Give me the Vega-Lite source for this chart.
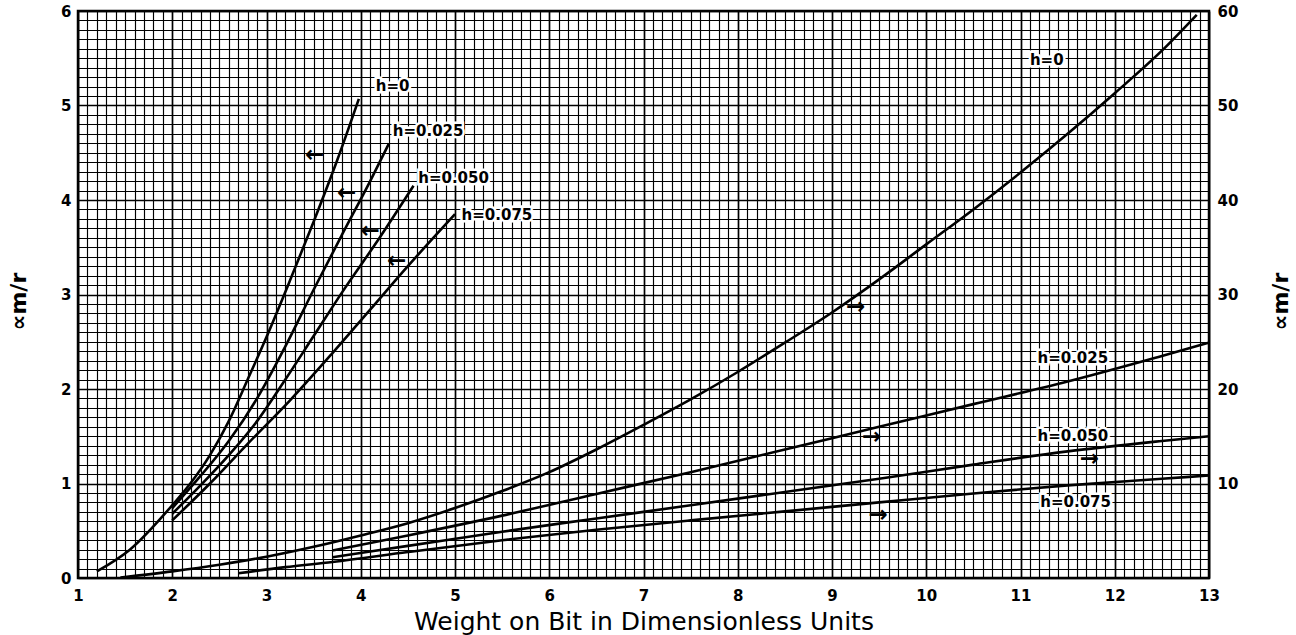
{
  "$schema": "https://vega.github.io/schema/vega-lite/v6.json",
  "width": 1131,
  "height": 567,
  "autosize": {"type": "none"},
  "padding": {"left": 78, "top": 11, "right": 87, "bottom": 57},
  "background": "white",
  "config": {
    "view": {"stroke": "black", "strokeWidth": 2.5},
    "font": "DejaVu Sans"
  },
  "datasets": {
    "leftCurves": [
      {"h": "0", "x": 1.2, "y": 0.07}, {"h": "0", "x": 1.55, "y": 0.3}, {"h": "0", "x": 2.0, "y": 0.77},
      {"h": "0", "x": 2.2, "y": 1.01}, {"h": "0", "x": 2.4, "y": 1.3}, {"h": "0", "x": 2.6, "y": 1.66},
      {"h": "0", "x": 2.8, "y": 2.1}, {"h": "0", "x": 3.0, "y": 2.55}, {"h": "0", "x": 3.25, "y": 3.15},
      {"h": "0", "x": 3.5, "y": 3.77}, {"h": "0", "x": 3.75, "y": 4.42}, {"h": "0", "x": 3.98, "y": 5.07},
      {"h": "0.025", "x": 2.0, "y": 0.74}, {"h": "0.025", "x": 2.3, "y": 1.08}, {"h": "0.025", "x": 2.6, "y": 1.45},
      {"h": "0.025", "x": 2.9, "y": 1.9}, {"h": "0.025", "x": 3.2, "y": 2.45}, {"h": "0.025", "x": 3.5, "y": 3.05},
      {"h": "0.025", "x": 3.8, "y": 3.63}, {"h": "0.025", "x": 4.1, "y": 4.2}, {"h": "0.025", "x": 4.3, "y": 4.6},
      {"h": "0.050", "x": 2.0, "y": 0.68}, {"h": "0.050", "x": 2.3, "y": 0.98}, {"h": "0.050", "x": 2.6, "y": 1.3},
      {"h": "0.050", "x": 2.9, "y": 1.66}, {"h": "0.050", "x": 3.2, "y": 2.1}, {"h": "0.050", "x": 3.5, "y": 2.56},
      {"h": "0.050", "x": 3.8, "y": 3.02}, {"h": "0.050", "x": 4.2, "y": 3.6}, {"h": "0.050", "x": 4.56, "y": 4.15},
      {"h": "0.075", "x": 2.0, "y": 0.61}, {"h": "0.075", "x": 2.4, "y": 1.0}, {"h": "0.075", "x": 2.8, "y": 1.42},
      {"h": "0.075", "x": 3.25, "y": 1.88}, {"h": "0.075", "x": 3.7, "y": 2.38}, {"h": "0.075", "x": 4.1, "y": 2.84},
      {"h": "0.075", "x": 4.5, "y": 3.3}, {"h": "0.075", "x": 5.0, "y": 3.85}
    ],
    "rightCurves": [
      {"h": "0", "x": 1.45, "r": 0.05}, {"h": "0", "x": 2.0, "r": 0.7}, {"h": "0", "x": 2.5, "r": 1.4},
      {"h": "0", "x": 3.0, "r": 2.25}, {"h": "0", "x": 3.5, "r": 3.3}, {"h": "0", "x": 4.0, "r": 4.5},
      {"h": "0", "x": 4.5, "r": 5.8}, {"h": "0", "x": 5.0, "r": 7.4}, {"h": "0", "x": 5.5, "r": 9.2},
      {"h": "0", "x": 6.0, "r": 11.2}, {"h": "0", "x": 6.5, "r": 13.6}, {"h": "0", "x": 7.0, "r": 16.2},
      {"h": "0", "x": 7.5, "r": 18.9}, {"h": "0", "x": 8.0, "r": 21.8}, {"h": "0", "x": 8.5, "r": 24.9},
      {"h": "0", "x": 9.0, "r": 28.1}, {"h": "0", "x": 9.5, "r": 31.6}, {"h": "0", "x": 10.0, "r": 35.3},
      {"h": "0", "x": 10.5, "r": 39.0}, {"h": "0", "x": 11.0, "r": 42.9}, {"h": "0", "x": 11.5, "r": 47.0},
      {"h": "0", "x": 12.0, "r": 51.3}, {"h": "0", "x": 12.5, "r": 55.8}, {"h": "0", "x": 12.87, "r": 59.6},
      {"h": "0.025", "x": 3.7, "r": 2.9}, {"h": "0.025", "x": 4.5, "r": 4.5}, {"h": "0.025", "x": 5.5, "r": 6.6},
      {"h": "0.025", "x": 6.5, "r": 8.9}, {"h": "0.025", "x": 7.5, "r": 11.2}, {"h": "0.025", "x": 8.5, "r": 13.6},
      {"h": "0.025", "x": 9.5, "r": 16.0}, {"h": "0.025", "x": 10.5, "r": 18.4}, {"h": "0.025", "x": 11.5, "r": 20.8},
      {"h": "0.025", "x": 12.5, "r": 23.5}, {"h": "0.025", "x": 13.0, "r": 24.9},
      {"h": "0.050", "x": 3.7, "r": 2.2}, {"h": "0.050", "x": 4.5, "r": 3.4}, {"h": "0.050", "x": 5.5, "r": 4.9},
      {"h": "0.050", "x": 6.5, "r": 6.3}, {"h": "0.050", "x": 7.5, "r": 7.7}, {"h": "0.050", "x": 8.5, "r": 9.1},
      {"h": "0.050", "x": 9.5, "r": 10.5}, {"h": "0.050", "x": 10.5, "r": 12.0}, {"h": "0.050", "x": 11.5, "r": 13.4},
      {"h": "0.050", "x": 12.5, "r": 14.5}, {"h": "0.050", "x": 13.0, "r": 15.0},
      {"h": "0.075", "x": 2.7, "r": 0.5}, {"h": "0.075", "x": 3.2, "r": 1.15}, {"h": "0.075", "x": 3.7, "r": 1.7},
      {"h": "0.075", "x": 4.5, "r": 2.75}, {"h": "0.075", "x": 5.5, "r": 4.0}, {"h": "0.075", "x": 6.5, "r": 5.1},
      {"h": "0.075", "x": 7.5, "r": 6.1}, {"h": "0.075", "x": 8.5, "r": 7.05}, {"h": "0.075", "x": 9.5, "r": 8.0},
      {"h": "0.075", "x": 10.5, "r": 8.95}, {"h": "0.075", "x": 11.5, "r": 9.8}, {"h": "0.075", "x": 12.5, "r": 10.5},
      {"h": "0.075", "x": 13.0, "r": 10.85}
    ],
    "leftLabels": [
      {"text": "h=0", "x": 4.16, "y": 5.21},
      {"text": "h=0.025", "x": 4.34, "y": 4.73},
      {"text": "h=0.050", "x": 4.61, "y": 4.23},
      {"text": "h=0.075", "x": 5.07, "y": 3.84}
    ],
    "rightLabels": [
      {"text": "h=0", "x": 11.1, "r": 54.8},
      {"text": "h=0.025", "x": 11.18, "r": 23.3},
      {"text": "h=0.050", "x": 11.18, "r": 15.0},
      {"text": "h=0.075", "x": 11.21, "r": 8.0}
    ],
    "leftArrows": [
      {"x": 3.51, "y": 4.48}, {"x": 3.85, "y": 4.07}, {"x": 4.1, "y": 3.67}, {"x": 4.38, "y": 3.35}
    ],
    "rightArrows": [
      {"x": 9.25, "r": 28.7}, {"x": 9.42, "r": 14.9}, {"x": 11.73, "r": 12.6}, {"x": 9.49, "r": 6.7}
    ]
  },
  "encoding": {
    "x": {
      "field": "x", "type": "quantitative",
      "scale": {"domain": [1, 13], "nice": false, "zero": false},
      "axis": {
        "values": [1,1.1,1.2,1.3,1.4,1.5,1.6,1.7,1.8,1.9,2,2.1,2.2,2.3,2.4,2.5,2.6,2.7,2.8,2.9,3,3.1,3.2,3.3,3.4,3.5,3.6,3.7,3.8,3.9,4,4.1,4.2,4.3,4.4,4.5,4.6,4.7,4.8,4.9,5,5.1,5.2,5.3,5.4,5.5,5.6,5.7,5.8,5.9,6,6.1,6.2,6.3,6.4,6.5,6.6,6.7,6.8,6.9,7,7.1,7.2,7.3,7.4,7.5,7.6,7.7,7.8,7.9,8,8.1,8.2,8.3,8.4,8.5,8.6,8.7,8.8,8.9,9,9.1,9.2,9.3,9.4,9.5,9.6,9.7,9.8,9.9,10,10.1,10.2,10.3,10.4,10.5,10.6,10.7,10.8,10.9,11,11.1,11.2,11.3,11.4,11.5,11.6,11.7,11.8,11.9,12,12.1,12.2,12.3,12.4,12.5,12.6,12.7,12.8,12.9,13],
        "labelExpr": "abs(datum.value - round(datum.value)) < 0.001 ? format(datum.value, 'd') : ''",
        "labelOverlap": false,
        "labelFlush": false,
        "labelFont": "DejaVu Sans",
        "labelFontWeight": "bold",
        "labelFontSize": 15,
        "labelColor": "black",
        "labelPadding": 10,
        "ticks": false,
        "domain": false,
        "grid": true,
        "gridColor": "#000000",
        "gridOpacity": 1,
        "gridWidth": {"condition": {"test": "abs(datum.value - round(datum.value)) < 0.001", "value": 1.7}, "value": 1.15},
        "title": "Weight on Bit in Dimensionless Units",
        "titleFont": "DejaVu Sans",
        "titleFontWeight": "normal",
        "titleFontSize": 25,
        "titleColor": "black",
        "titleBaseline": "middle",
        "titleY": 43
      }
    }
  },
  "resolve": {"scale": {"y": "independent"}, "axis": {"y": "independent"}},
  "layer": [
    {
      "encoding": {
        "y": {
          "field": "y", "type": "quantitative",
          "scale": {"domain": [0, 6], "nice": false, "zero": false},
          "axis": {
            "values": [0,0.1,0.2,0.3,0.4,0.5,0.6,0.7,0.8,0.9,1,1.1,1.2,1.3,1.4,1.5,1.6,1.7,1.8,1.9,2,2.1,2.2,2.3,2.4,2.5,2.6,2.7,2.8,2.9,3,3.1,3.2,3.3,3.4,3.5,3.6,3.7,3.8,3.9,4,4.1,4.2,4.3,4.4,4.5,4.6,4.7,4.8,4.9,5,5.1,5.2,5.3,5.4,5.5,5.6,5.7,5.8,5.9,6],
            "labelExpr": "abs(datum.value - round(datum.value)) < 0.001 ? format(datum.value, 'd') : ''",
            "labelOverlap": false,
            "labelFlush": false,
            "labelFont": "DejaVu Sans",
            "labelFontWeight": "bold",
            "labelFontSize": 15,
            "labelColor": "black",
            "labelPadding": 7,
            "ticks": false,
            "domain": false,
            "grid": true,
            "gridColor": "#000000",
            "gridOpacity": 1,
            "gridWidth": {"condition": {"test": "abs(datum.value - round(datum.value)) < 0.001", "value": 1.7}, "value": 1.15},
            "title": "∝m/r",
            "titleFont": "DejaVu Sans",
            "titleFontWeight": "bold",
            "titleFontSize": 22,
            "titleColor": "black",
            "titleAngle": 270,
            "titleAlign": "center",
            "titleBaseline": "middle",
            "titleX": -60,
            "titleY": 290
          }
        }
      },
      "layer": [
        {
          "data": {"name": "leftCurves"},
          "mark": {"type": "line", "color": "black", "strokeWidth": 2.6, "interpolate": "monotone"},
          "encoding": {"detail": {"field": "h"}}
        },
        {
          "data": {"name": "leftLabels"},
          "mark": {"type": "text", "align": "left", "baseline": "middle", "font": "DejaVu Sans", "fontWeight": "bold", "fontSize": 15, "color": "white", "stroke": "white", "strokeWidth": 5},
          "encoding": {"text": {"field": "text"}}
        },
        {
          "data": {"name": "leftLabels"},
          "mark": {"type": "text", "align": "left", "baseline": "middle", "font": "DejaVu Sans", "fontWeight": "bold", "fontSize": 15, "color": "black"},
          "encoding": {"text": {"field": "text"}}
        },
        {
          "data": {"name": "leftArrows"},
          "mark": {"type": "text", "align": "center", "baseline": "middle", "font": "DejaVu Sans", "fontWeight": "bold", "fontSize": 23, "color": "black", "text": "←"},
          "encoding": {}
        }
      ]
    },
    {
      "encoding": {
        "y": {
          "field": "r", "type": "quantitative",
          "scale": {"domain": [0, 60], "nice": false, "zero": false},
          "axis": {
            "orient": "right",
            "values": [10, 20, 30, 40, 50, 60],
            "labelOverlap": false,
            "labelFlush": false,
            "labelFont": "DejaVu Sans",
            "labelFontWeight": "bold",
            "labelFontSize": 15,
            "labelColor": "black",
            "labelPadding": 8,
            "ticks": false,
            "domain": false,
            "grid": false,
            "title": "∝m/r",
            "titleFont": "DejaVu Sans",
            "titleFontWeight": "bold",
            "titleFontSize": 22,
            "titleColor": "black",
            "titleAngle": 270,
            "titleAlign": "center",
            "titleBaseline": "middle",
            "titleX": 71,
            "titleY": 290
          }
        }
      },
      "layer": [
        {
          "data": {"name": "rightCurves"},
          "mark": {"type": "line", "color": "black", "strokeWidth": 2.6, "interpolate": "monotone"},
          "encoding": {"detail": {"field": "h"}}
        },
        {
          "data": {"name": "rightLabels"},
          "mark": {"type": "text", "align": "left", "baseline": "middle", "font": "DejaVu Sans", "fontWeight": "bold", "fontSize": 15, "color": "white", "stroke": "white", "strokeWidth": 5},
          "encoding": {"text": {"field": "text"}}
        },
        {
          "data": {"name": "rightLabels"},
          "mark": {"type": "text", "align": "left", "baseline": "middle", "font": "DejaVu Sans", "fontWeight": "bold", "fontSize": 15, "color": "black"},
          "encoding": {"text": {"field": "text"}}
        },
        {
          "data": {"name": "rightArrows"},
          "mark": {"type": "text", "align": "center", "baseline": "middle", "font": "DejaVu Sans", "fontWeight": "bold", "fontSize": 23, "color": "black", "text": "→"},
          "encoding": {}
        }
      ]
    }
  ]
}
